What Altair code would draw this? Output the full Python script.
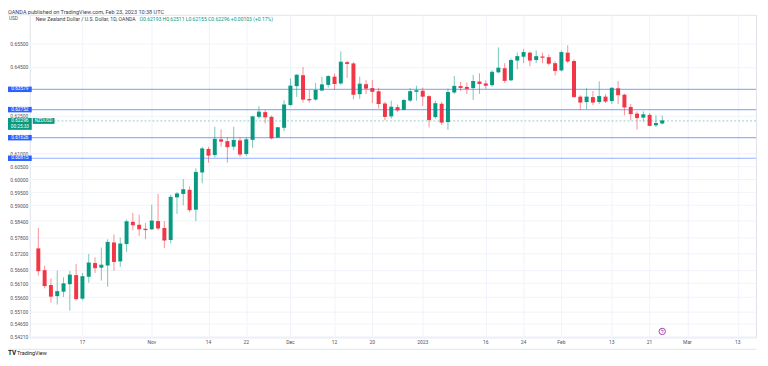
import altair as alt
import pandas as pd

# ---- data (NZDUSD daily, OANDA) ----
dates = [d.strftime("%Y-%m-%d") for d in pd.bdate_range("2022-10-06", "2023-02-23")
         if d.strftime("%Y-%m-%d") != "2022-12-26"]

open_ = [0.5738, 0.5658, 0.5604, 0.5564, 0.5580, 0.5607, 0.5640, 0.5555, 0.5634, 0.5684,
         0.5667, 0.5675, 0.5760, 0.5690, 0.5754, 0.5837, 0.5826, 0.5811, 0.5809, 0.5840,
         0.5814, 0.5769, 0.5930, 0.5943, 0.5959, 0.5883, 0.6026, 0.6118, 0.6094, 0.6156,
         0.6149, 0.6127, 0.6152, 0.6098, 0.6154, 0.6246, 0.6265, 0.6246, 0.6163, 0.6202,
         0.6294, 0.6371, 0.6416, 0.6318, 0.6316, 0.6353, 0.6376, 0.6410, 0.6382, 0.6470,
         0.6465, 0.6338, 0.6379, 0.6363, 0.6350, 0.6300, 0.6248, 0.6285, 0.6274, 0.6312,
         0.6348, 0.6352, 0.6330, 0.6245, 0.6299, 0.6225, 0.6345, 0.6371, 0.6368, 0.6363,
         0.6390, 0.6382, 0.6375, 0.6428, 0.6445, 0.6395, 0.6477, 0.6493, 0.6510, 0.6479,
         0.6493, 0.6491, 0.6466, 0.6436, 0.6510, 0.6475, 0.6328, 0.6306, 0.6326, 0.6306,
         0.6328, 0.6310, 0.6362, 0.6336, 0.6286, 0.6259, 0.6243, 0.6254, 0.6212, 0.62193]
high = [0.5814, 0.5674, 0.5628, 0.5656, 0.5632, 0.5655, 0.5680, 0.5648, 0.5717, 0.5705,
        0.5741, 0.5772, 0.5790, 0.5778, 0.5846, 0.5871, 0.5864, 0.5833, 0.5902, 0.5943,
        0.5840, 0.5940, 0.5950, 0.6000, 0.5972, 0.6042, 0.6127, 0.6127, 0.6206, 0.6196,
        0.6165, 0.6206, 0.6165, 0.6165, 0.6250, 0.6289, 0.6273, 0.6251, 0.6206, 0.6313,
        0.6403, 0.6420, 0.6450, 0.6356, 0.6384, 0.6410, 0.6416, 0.6423, 0.6515, 0.6476,
        0.6470, 0.6410, 0.6396, 0.6396, 0.6363, 0.6307, 0.6312, 0.6296, 0.6319, 0.6363,
        0.6373, 0.6365, 0.6334, 0.6311, 0.6307, 0.6361, 0.6413, 0.6388, 0.6386, 0.6417,
        0.6424, 0.6395, 0.6436, 0.6532, 0.6466, 0.6486, 0.6510, 0.6526, 0.6515, 0.6519,
        0.6510, 0.6502, 0.6474, 0.6519, 0.6541, 0.6482, 0.6334, 0.6363, 0.6351, 0.6391,
        0.6338, 0.6367, 0.6392, 0.6340, 0.6298, 0.6268, 0.6268, 0.6262, 0.6252, 0.62511]
low = [0.5638, 0.5592, 0.5541, 0.5534, 0.5561, 0.5512, 0.5549, 0.5549, 0.5612, 0.5648,
       0.5620, 0.5598, 0.5656, 0.5670, 0.5725, 0.5805, 0.5784, 0.5772, 0.5806, 0.5806,
       0.5739, 0.5757, 0.5867, 0.5900, 0.5873, 0.5840, 0.5984, 0.6064, 0.6084, 0.6127,
       0.6064, 0.6113, 0.6087, 0.6091, 0.6122, 0.6238, 0.6220, 0.6156, 0.6162, 0.6188,
       0.6290, 0.6327, 0.6304, 0.6304, 0.6311, 0.6351, 0.6365, 0.6356, 0.6376, 0.6405,
       0.6317, 0.6319, 0.6338, 0.6302, 0.6280, 0.6232, 0.6239, 0.6265, 0.6272, 0.6306,
       0.6312, 0.6290, 0.6203, 0.6239, 0.6213, 0.6194, 0.6339, 0.6351, 0.6339, 0.6314,
       0.6339, 0.6360, 0.6369, 0.6424, 0.6383, 0.6392, 0.6441, 0.6466, 0.6453, 0.6466,
       0.6466, 0.6457, 0.6415, 0.6432, 0.6466, 0.6324, 0.6273, 0.6277, 0.6294, 0.6298,
       0.6302, 0.6298, 0.6298, 0.6252, 0.6232, 0.6195, 0.6228, 0.6208, 0.6205, 0.62155]
close = [0.5656, 0.5602, 0.5564, 0.5580, 0.5608, 0.5640, 0.5555, 0.5634, 0.5684, 0.5667,
         0.5676, 0.5760, 0.5690, 0.5754, 0.5837, 0.5826, 0.5811, 0.5808, 0.5840, 0.5814,
         0.5769, 0.5930, 0.5943, 0.5959, 0.5883, 0.6026, 0.6118, 0.6094, 0.6156, 0.6149,
         0.6127, 0.6152, 0.6098, 0.6154, 0.6246, 0.6265, 0.6246, 0.6162, 0.6202, 0.6294,
         0.6371, 0.6416, 0.6318, 0.6315, 0.6353, 0.6376, 0.6410, 0.6382, 0.6470, 0.6465,
         0.6338, 0.6379, 0.6363, 0.6350, 0.6300, 0.6248, 0.6285, 0.6274, 0.6312, 0.6348,
         0.6352, 0.6330, 0.6235, 0.6299, 0.6225, 0.6345, 0.6370, 0.6366, 0.6362, 0.6390,
         0.6382, 0.6375, 0.6428, 0.6445, 0.6395, 0.6477, 0.6493, 0.6510, 0.6479, 0.6493,
         0.6491, 0.6466, 0.6436, 0.6510, 0.6475, 0.6328, 0.6306, 0.6326, 0.6306, 0.6328,
         0.6310, 0.6362, 0.6336, 0.6286, 0.6259, 0.6243, 0.6254, 0.6212, 0.6219, 0.62296]

level_values = [0.63579, 0.62752, 0.61626, 0.60815]
last_price = 0.62296
countdown = "00:25:33"
symbol = "NZDUSD"

ytick_values = [0.655, 0.645, 0.625, 0.61, 0.605, 0.6, 0.595, 0.59, 0.584, 0.578,
                0.572, 0.566, 0.561, 0.556, 0.551, 0.5465, 0.5421]
xtick_index = [7, 18, 27, 33, 40, 47, 53, 61, 71, 77, 83, 91, 97, 103, 111]
xtick_text = ["17", "Nov", "14", "22", "Dec", "12", "20", "2023", "16", "24",
              "Feb", "13", "21", "Mar", "13"]

header = "OANDA published on TradingView.com, Feb 23, 2023 10:38 UTC"
title_name = "New Zealand Dollar / U.S. Dollar, 1D, OANDA"
title_ohlc = "O0.62193  H0.62511  L0.62155  C0.62296  +0.00103 (+0.17%)"

# ---- styling ----
GREEN = "#089981"
RED = "#F23645"
BLUE = "#2962FF"
GRID = "#f0f3fa"
TXT = "#50535e"
FONT = "Roboto"

df = pd.DataFrame({"i": list(range(len(dates))), "date": dates, "open": open_,
                   "high": high, "low": low, "close": close})
df["dir"] = ["up" if c >= o else "down" for o, c in zip(open_, close)]

xscale = alt.Scale(domain=[-0.573, 113.1], nice=False, zero=False)
yscale = alt.Scale(type="log", domain=[0.5418, 0.6671], nice=False, zero=False)
xaxis = alt.Axis(values=xtick_index, labels=False, ticks=False, domain=False,
                 grid=True, gridColor=GRID, gridWidth=1, title=None, zindex=0)
yaxis = alt.Axis(values=ytick_values, format=".5f", labelFontSize=5, labelColor=TXT,
                 labelFont=FONT, ticks=False, tickSize=0, domain=False, grid=True,
                 gridColor=GRID, labelPadding=2, title=None, labelFlush=False,
                 labelOverlap=False, zindex=0)

X = alt.X("i:Q", scale=xscale, axis=xaxis)
color = alt.Color("dir:N", scale=alt.Scale(domain=["up", "down"], range=[GREEN, RED]),
                  legend=None)

base = alt.Chart(df)
wicks = base.mark_rule(strokeWidth=1, opacity=0.55).encode(
    x=X, y=alt.Y("low:Q", scale=yscale, axis=yaxis), y2="high:Q", color=color)
bodies = base.mark_bar(size=4).encode(
    x=X, y=alt.Y("open:Q", scale=yscale, axis=yaxis), y2="close:Q", color=color)
doji = base.transform_calculate(xl="datum.i - 0.31", xr="datum.i + 0.31").mark_rule(
    strokeWidth=1).encode(x=alt.X("xl:Q", scale=xscale, axis=xaxis), x2="xr:Q",
                          y=alt.Y("close:Q", scale=yscale, axis=yaxis), color=color)

lv = pd.DataFrame({"v": level_values, "t": [f"{v:.5f}" for v in level_values]})
Yv = alt.Y("v:Q", scale=yscale, axis=yaxis)
level_lines = alt.Chart(lv).mark_rule(color=BLUE, opacity=0.5, strokeWidth=1.2).encode(y=Yv)
level_tags = alt.Chart(lv).mark_point(
    shape="M-1,-0.23L1,-0.23L1,0.23L-1,0.23Z", size=576, filled=True, opacity=1,
    color=BLUE, strokeWidth=0).encode(x=alt.value(-10), y=Yv)
level_text = alt.Chart(lv).mark_text(fontSize=4.8, font=FONT, color="white",
                                     align="center", baseline="middle").encode(
    x=alt.value(-10), y=Yv, text="t:N")

pv = pd.DataFrame({"v": [last_price], "t": [f"{last_price:.5f}"], "c": [countdown],
                   "s": [symbol]})
price_line = alt.Chart(pv).mark_rule(color=GREEN, opacity=0.45, strokeDash=[2, 2],
                                     strokeWidth=1).encode(y=Yv)
price_tag = alt.Chart(pv).mark_point(
    shape="M-1,-0.25L1,-0.25L1,0.75L-1,0.75Z", size=576, filled=True, opacity=1,
    color=GREEN, strokeWidth=0).encode(x=alt.value(-10), y=Yv)
price_text = alt.Chart(pv).mark_text(fontSize=4.8, font=FONT, color="white",
                                     align="center", baseline="middle").encode(
    x=alt.value(-10), y=Yv, text="t:N")
count_text = alt.Chart(pv).mark_text(fontSize=4.8, font=FONT, color="white",
                                     align="center", baseline="middle", dy=6).encode(
    x=alt.value(-10), y=Yv, text="c:N")
sym_tag = alt.Chart(pv).mark_point(
    shape="M-1,-0.27L1,-0.27L1,0.27L-1,0.27Z", size=484, filled=True, opacity=1,
    color=GREEN, strokeWidth=0).encode(x=alt.value(14), y=Yv)
sym_text = alt.Chart(pv).mark_text(fontSize=4.6, font=FONT, color="white",
                                   align="center", baseline="middle").encode(
    x=alt.value(14), y=Yv, text="s:N")

xl = pd.DataFrame({"i": xtick_index, "t": xtick_text})
x_labels = alt.Chart(xl).mark_text(fontSize=5, font=FONT, color=TXT,
                                   baseline="middle").encode(
    x=alt.X("i:Q", scale=xscale, axis=xaxis), y=alt.value(331), text="t:N")

one = pd.DataFrame({"d": [0]})


def label(text, x, y, size=5, col=TXT, weight="normal"):
    return alt.Chart(one).mark_text(text=text, fontSize=size, font=FONT, color=col,
                                    align="left", baseline="middle",
                                    fontWeight=weight).encode(
        x=alt.value(x), y=alt.value(y))


hdr = label(header, -22, -2.6, 5.6, "#3a3e4a")
usd = label("USD", -21, 4.5, 4.8, TXT)
tname = label(title_name, 6, 4.5, 5.2, "#3a3e4a")
tohlc = label(title_ohlc, 111, 4.5, 5.1, GREEN)
logo_tv = label("TV", -22, 342, 6.5, "#131722", "bold")
logo_name = label("TradingView", -13, 342, 5.5, "#131722")

frame_top = alt.Chart(one).mark_rule(color="#e0e3eb").encode(
    x=alt.value(-26), x2=alt.value(0), y=alt.value(0))
frame_bottom = alt.Chart(one).mark_rule(color="#e0e3eb").encode(
    x=alt.value(-26), x2=alt.value(734), y=alt.value(338))

ev = pd.DataFrame({"i": [len(dates) - 1]})
event_icon = alt.Chart(ev).mark_point(shape="circle", size=42, filled=True,
                                      fill="white", stroke="#9c27b0",
                                      strokeWidth=0.9, opacity=1).encode(
    x=alt.X("i:Q", scale=xscale, axis=xaxis), y=alt.value(320))
event_glyph = alt.Chart(ev).mark_text(text="ϟ", fontSize=5, color="#9c27b0",
                                      align="center", baseline="middle").encode(
    x=alt.X("i:Q", scale=xscale, axis=xaxis), y=alt.value(320))

chart = alt.layer(
    wicks, bodies, doji, level_lines, price_line, level_tags, level_text,
    price_tag, price_text, count_text, sym_tag, sym_text, x_labels,
    hdr, usd, tname, tohlc, logo_tv, logo_name, frame_top, frame_bottom,
    event_icon, event_glyph,
).properties(
    width=734, height=326,
    padding={"left": 22, "top": 5, "right": 4, "bottom": 19},
    autosize=alt.AutoSizeParams(type="none"),
    background="white",
).configure_view(stroke="#e0e3eb", strokeWidth=1)

chart.save("out.html", embed_options={"renderer": "svg", "actions": False})
